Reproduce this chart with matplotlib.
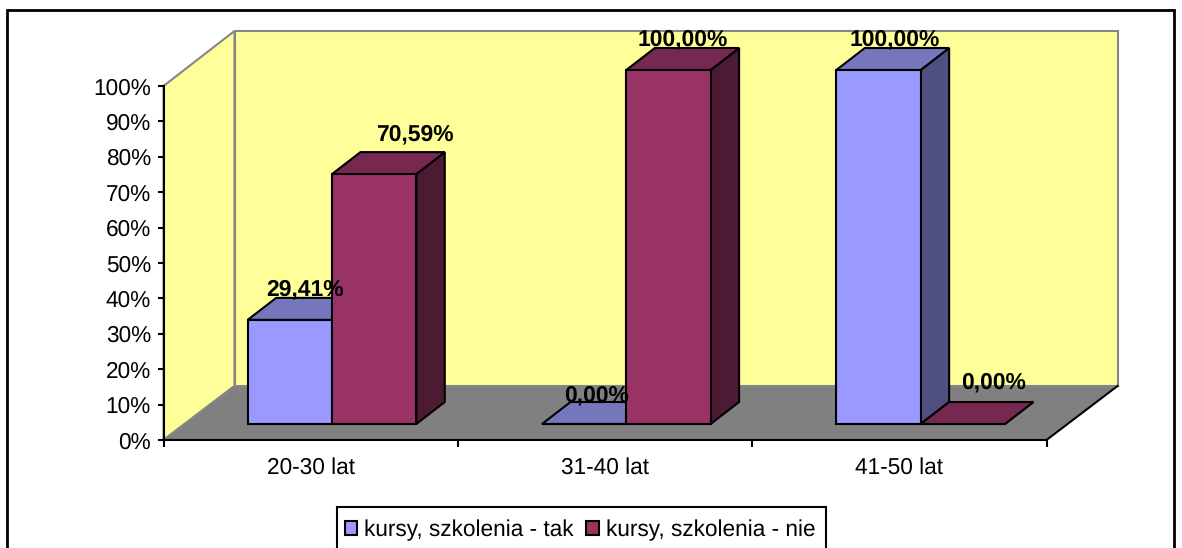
import matplotlib
matplotlib.use("Agg")
import matplotlib.pyplot as plt
from matplotlib.patches import Polygon, Rectangle, Patch

plt.rcParams['font.family'] = ['Liberation Sans', 'DejaVu Sans']
plt.rcParams['text.hinting'] = 'no_hinting'

categories = ["20-30 lat", "31-40 lat", "41-50 lat"]
tak = [29.41, 0.00, 100.00]
nie = [70.59, 100.00, 0.00]
series_names = ["kursy, szkolenia - tak", "kursy, szkolenia - nie"]
yticks = [0, 10, 20, 30, 40, 50, 60, 70, 80, 90, 100]

W, H = 1182, 548
fig = plt.figure(figsize=(W / 100, H / 100), dpi=100, facecolor="white")

# front plane of the 3d box, everything else is shifted from it
left, right, top, bottom = 163.5, 1046.5, 86, 440
ax = fig.add_axes([left / W, 1 - bottom / H, (right - left) / W, (bottom - top) / H])
ax.set_xlim(0, 3)
ax.set_ylim(0, 100)
ax.patch.set_visible(False)

px = 3 / (right - left)
py = 100 / (bottom - top)

# wall depth, bar shift from the front plane and bar size
wall_dx, wall_dy = 71 * px, 54 * py
wall_top = 100 + wall_dy + 1 * py
shift_x, shift_y = 21.3 * px, 16 * py
bar_w = 84.3 * px
bar_dx, bar_dy = 28.5 * px, 22 * py
gap = 0.5 - 84.3 * px


def poly(pts, fc, ec="black", lw=1.5, z=2):
    ax.add_patch(Polygon(pts, closed=True, facecolor=fc, edgecolor=ec, linewidth=lw,
                         zorder=z, clip_on=False, joinstyle="miter"))


# walls and floor
grey = "#868686"
poly([(0, 0), (wall_dx, wall_dy), (wall_dx, wall_top), (0, 100)], "#FFFF99", grey, 1.5, 1)
poly([(wall_dx, wall_dy), (3 + wall_dx, wall_dy), (3 + wall_dx, wall_top), (wall_dx, wall_top)],
     "#FFFF99", grey, 1.5, 1)
poly([(0, 0), (wall_dx, wall_dy), (3 + wall_dx, wall_dy), (3, 0)], "#808080", "none", 0, 1.2)
ax.plot([0, wall_dx], [0, wall_dy], color=grey, lw=1.5, zorder=1.3, clip_on=False)
ax.plot([wall_dx, 3 + wall_dx], [wall_dy, wall_dy], color=grey, lw=1.0, zorder=1.3, clip_on=False)
ax.plot([3, 3 + wall_dx], [0, wall_dy], color="black", lw=1.5, zorder=1.3, clip_on=False)


def bar(x0, v, front, roof, side, z):
    x1 = x0 + bar_w
    y0, y1 = shift_y, shift_y + v
    poly([(x1, y0), (x1 + bar_dx, y0 + bar_dy), (x1 + bar_dx, y1 + bar_dy), (x1, y1)], side, z=z)
    poly([(x0, y1), (x0 + bar_dx, y1 + bar_dy), (x1 + bar_dx, y1 + bar_dy), (x1, y1)], roof, z=z)
    poly([(x0, y0), (x1, y0), (x1, y1), (x0, y1)], front, z=z)


for i in range(len(categories)):
    x0 = i + gap + shift_x
    bar(x0, tak[i], "#9999FF", "#7676BD", "#4F4F80", 2 + i)
    bar(x0 + bar_w, nie[i], "#993366", "#772850", "#4D1A33", 2.5 + i)

# data labels, offsets from the bar's front top left corner (px), some were moved by hand
tak_off = [(57, 30), (55, 29), (58, 31)]
nie_off = [(83, 40), (56, 31), (73, 42)]
for i in range(len(categories)):
    x0 = i + gap + shift_x
    for v, off, xb in ((tak[i], tak_off[i], x0), (nie[i], nie_off[i], x0 + bar_w)):
        ax.text(xb + off[0] * px, shift_y + v + off[1] * py, f"{v:.2f}%".replace(".", ","),
                ha="center", va="center", fontsize=16.5, fontweight="bold", color="black",
                zorder=10, clip_on=False)

# axes
for s in ("top", "right"):
    ax.spines[s].set_visible(False)
for s in ("left", "bottom"):
    ax.spines[s].set_linewidth(1.5)
    ax.spines[s].set_zorder(1.5)
ax.set_yticks(yticks)
ax.set_yticklabels([f"{t}%" for t in yticks], fontsize=16.3, color="black")
ax.set_xticks([0, 1, 2, 3])
ax.set_xticklabels([])
ax.set_xticks([0.5, 1.5, 2.5], minor=True)
ax.set_xticklabels(categories, minor=True, fontsize=16.3)
ax.tick_params(axis="x", which="minor", length=0, pad=12)
ax.tick_params(axis="x", which="major", length=5, width=1.5)
ax.tick_params(axis="y", length=4, width=1.5, pad=5)

# outer frame and legend box both run past the bottom edge of the picture
fig.add_artist(Rectangle((7 / W, -0.02), (1174 - 7) / W, 1.02 - 10 / H, transform=fig.transFigure,
                         fill=False, edgecolor="black", linewidth=2))
fig.add_artist(Rectangle((337 / W, -0.02), (826 - 337) / W, 0.02 + 1 - 507 / H, transform=fig.transFigure,
                         fill=False, edgecolor="black", linewidth=1.5))

handles = [Patch(facecolor="#9999FF", edgecolor="black", linewidth=1.5),
           Patch(facecolor="#993366", edgecolor="black", linewidth=1.5)]
leg = fig.legend(handles, series_names, loc="center left", bbox_to_anchor=(345 / W, 1 - 530 / H),
                 ncol=2, fontsize=16.3, frameon=False, borderaxespad=0, borderpad=0,
                 handlelength=0.55, handleheight=0.55, handletextpad=0.3, columnspacing=0.55)
leg.set_zorder(20)

fig.savefig("out.png", dpi=100)
